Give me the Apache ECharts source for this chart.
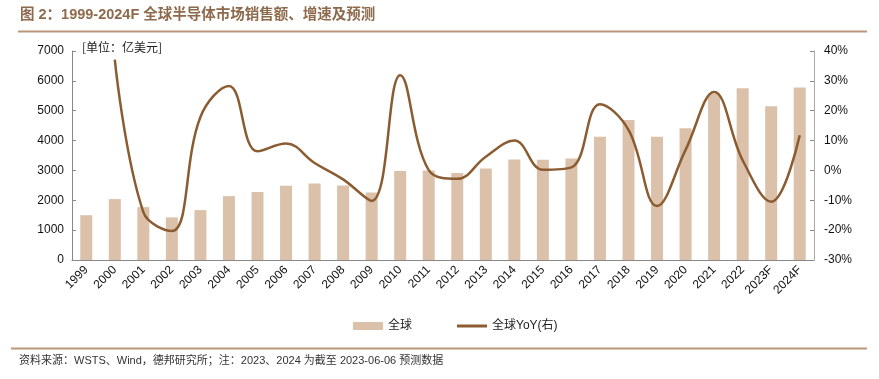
<!DOCTYPE html>
<html><head><meta charset="utf-8">
<script src="https://cdn.jsdelivr.net/npm/echarts@6/dist/echarts.min.js"></script>
<style>html,body{margin:0;padding:0;background:#fff}#c{width:879px;height:379px}</style>
</head><body><div id="c"></div>
<script>
var categories = ['1999','2000','2001','2002','2003','2004','2005','2006','2007','2008','2009','2010','2011','2012','2013','2014','2015','2016','2017','2018','2019','2020','2021','2022','2023F','2024F'];
var sales = [1500,2040,1770,1427,1672,2140,2274,2485,2565,2497,2264,2977,3000,2910,3066,3368,3355,3400,4124,4693,4124,4415,5560,5752,5150,5776];
var yoy = [null,37.1,-14.0,-20.3,17.9,28.3,6.4,9.0,2.5,-3.0,-10.2,31.9,0.1,-2.8,4.6,10.0,0.2,1.0,22.2,13.6,-11.9,6.9,26.3,3.4,-10.5,11.8];
var leftTicks = [0,7000,1000];
var rightTicks = [-30,40,10];

var FONT = 'Liberation Sans, Arial, Noto Sans CJK SC, sans-serif';
var chart = echarts.init(document.getElementById('c'));
chart.setOption({
  animation: false,
  textStyle: {fontFamily: FONT},
  grid: {left: 72, right: 65, top: 51, bottom: 119, containLabel: false},
  graphic: [
    {type: 'text', left: 20, top: 8, style: {text: '图 2：1999-2024F 全球半导体市场销售额、增速及预测', fill: '#8d6a4b', font: 'bold 14.5px ' + FONT}},
    {type: 'rect', shape: {x: 18, y: 30.5, width: 849, height: 2}, style: {fill: '#b9987a'}},
    {type: 'text', left: 82, top: 41, style: {text: '[单位：亿美元]', fill: '#222', font: '12px Noto Sans CJK SC, sans-serif'}},
    {type: 'rect', shape: {x: 11, y: 347.5, width: 856, height: 2}, style: {fill: '#b9987a'}},
    {type: 'text', left: 19, top: 355, style: {text: '资料来源：WSTS、Wind，德邦研究所；注：2023、2024 为截至 2023-06-06 预测数据', fill: '#333', font: '11px ' + FONT}}
  ],
  legend: {
    bottom: 42, left: 348, itemWidth: 30, itemHeight: 8, itemGap: 45,
    textStyle: {fontSize: 12, color: '#222', fontFamily: FONT},
    data: [{name: '全球', icon: 'rect'}, {name: '全球YoY(右)', icon: 'path://M0,0 L30,0 L30,3 L0,3 Z', itemStyle: {color: '#8b5c31'}}]
  },
  xAxis: {
    type: 'category', data: categories,
    axisLine: {lineStyle: {color: '#888'}},
    axisTick: {inside: true, length: 4, lineStyle: {color: '#888'}},
    axisLabel: {rotate: 45, fontSize: 12, color: '#111', interval: 0, margin: 8}
  },
  yAxis: [
    {type: 'value', min: leftTicks[0], max: leftTicks[1], interval: leftTicks[2],
     splitLine: {show: false},
     axisLine: {show: true, lineStyle: {color: '#888'}},
     axisTick: {show: true, inside: true, length: 4, lineStyle: {color: '#888'}},
     axisLabel: {fontSize: 12, color: '#111', margin: 8, formatter: function (v) { return String(v); }}},
    {type: 'value', min: rightTicks[0], max: rightTicks[1], interval: rightTicks[2],
     splitLine: {show: false},
     axisLine: {show: true, lineStyle: {color: '#aaa'}},
     axisTick: {show: true, inside: true, length: 4, lineStyle: {color: '#888'}},
     axisLabel: {fontSize: 12, color: '#111', margin: 10, formatter: '{value}%'}}
  ],
  series: [
    {name: '全球', type: 'bar', data: sales, barWidth: 12, itemStyle: {color: '#dbc1aa'}},
    {name: '全球YoY(右)', type: 'line', yAxisIndex: 1, data: yoy, smooth: 0.4, symbol: 'none',
     connectNulls: false, lineStyle: {color: '#8b5c31', width: 2.5}, itemStyle: {color: '#8b5c31'}}
  ]
});
</script></body></html>
